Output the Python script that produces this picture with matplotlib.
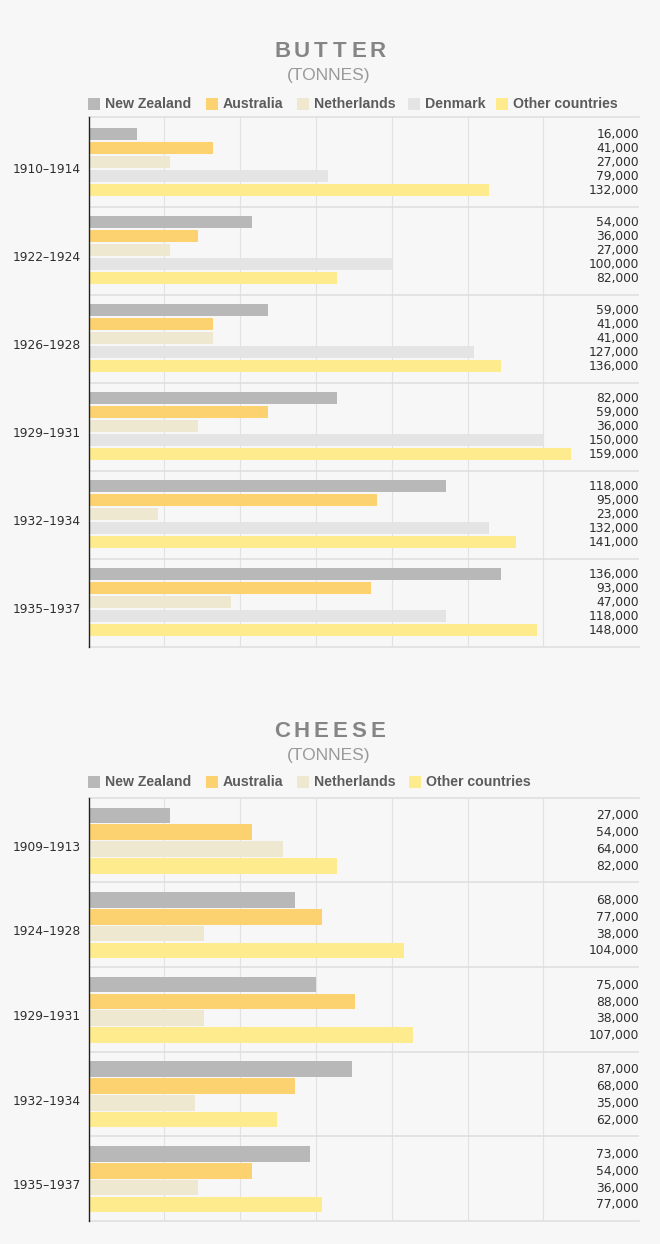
import matplotlib
matplotlib.use("Agg")
import matplotlib.pyplot as plt
from matplotlib.patches import Rectangle
from matplotlib import font_manager

# ---------------- data ----------------
butter_periods = ["1910–1914", "1922–1924", "1926–1928", "1929–1931", "1932–1934", "1935–1937"]
butter_countries = ["New Zealand", "Australia", "Netherlands", "Denmark", "Other countries"]
butter_nz = [16000, 54000, 59000, 82000, 118000, 136000]
butter_aus = [41000, 36000, 41000, 59000, 95000, 93000]
butter_neth = [27000, 27000, 41000, 36000, 23000, 47000]
butter_den = [79000, 100000, 127000, 150000, 132000, 118000]
butter_other = [132000, 82000, 136000, 159000, 141000, 148000]

cheese_periods = ["1909–1913", "1924–1928", "1929–1931", "1932–1934", "1935–1937"]
cheese_countries = ["New Zealand", "Australia", "Netherlands", "Other countries"]
cheese_nz = [27000, 68000, 75000, 87000, 73000]
cheese_aus = [54000, 77000, 88000, 68000, 54000]
cheese_neth = [64000, 38000, 38000, 35000, 36000]
cheese_other = [82000, 104000, 107000, 62000, 77000]

grid_ticks = [25000, 50000, 75000, 100000, 125000, 150000]

# ---------------- style ----------------
C_NZ = "#b9b8b8"
C_AUS = "#fcd16f"
C_NETH = "#efe8d1"
C_DEN = "#e4e4e4"
C_OTHER = "#fdeb8e"
BG = "#f7f7f7"
XMAX = 181500

W, H = 660, 1244
fig = plt.figure(figsize=(W / 100, H / 100), dpi=100, facecolor=BG)

names = {f.name for f in font_manager.fontManager.ttflist}
title_font = "Liberation Sans Narrow" if "Liberation Sans Narrow" in names else "Liberation Sans"


def fx(x):
    return x / W


def fy(y):
    return 1 - y / H


def title(word, yc_title, yc_sub):
    pitch = 19.0
    n = len(word)
    for i, ch in enumerate(word):
        xc = 330 + (i - (n - 1) / 2) * pitch
        fig.text(fx(xc), fy(yc_title), ch, ha="center", va="center",
                 family=title_font, weight="bold", size=16, color="#858585")
    fig.text(fx(329), fy(yc_sub), "(TONNES)", ha="center", va="center",
             family="Liberation Sans", size=12.5, color="#999999")


def legend(labels, colors, xs, yc):
    for lab, c, x in zip(labels, colors, xs):
        fig.patches.append(Rectangle((fx(x), fy(yc + 6)), 12 / W, 12 / H,
                                     transform=fig.transFigure, facecolor=c,
                                     edgecolor="none"))
        fig.text(fx(x + 16.8), fy(yc), lab, ha="left", va="center",
                 family="Liberation Sans", weight="bold", size=10.2, color="#5c5c5c")


def panel(top_px, bottom_px, top_extra, periods, series, colors,
          bar_off, bar_pitch, bar_h, label_dy):
    left, right = 88.6, 639.0
    ax = fig.add_axes([fx(left), fy(bottom_px), (right - left) / W,
                       (bottom_px - top_px) / H])
    ax.set_facecolor("none")
    ng = len(periods)
    gpx = (bottom_px - top_px - top_extra) / ng
    ax.set_xlim(0, XMAX)
    ax.set_ylim(ng, -top_extra / gpx)
    for j, (vals, c) in enumerate(zip(series, colors)):
        yc = [i + (bar_off + j * bar_pitch + bar_h / 2) / gpx for i in range(ng)]
        ax.barh(yc, vals, height=bar_h / gpx, color=c, linewidth=0, zorder=3)
        for y, v in zip(yc, vals):
            ax.text(1.0, y + 0.6 / gpx, f"{v:,}", transform=ax.get_yaxis_transform(),
                    ha="right", va="center", family="DejaVu Sans", size=8.8,
                    color="#2e2e2e", zorder=4)
    for i in range(1, ng):
        ax.axhline(i, color="#dddddd", lw=1.1, zorder=2)
    ax.set_xticks(grid_ticks)
    ax.grid(axis="x", color="#e2e2e2", lw=0.8)
    ax.set_axisbelow(True)
    ax.tick_params(axis="x", length=0, labelbottom=False)
    ax.set_yticks([i + 0.5 + label_dy / gpx for i in range(ng)])
    ax.set_yticklabels(periods)
    ax.tick_params(axis="y", length=0, pad=5.5, labelsize=8.8, labelcolor="#2e2e2e")
    for lab in ax.get_yticklabels():
        lab.set_family("DejaVu Sans")
    ax.spines["right"].set_visible(False)
    for s in ("top", "bottom"):
        ax.spines[s].set_color("#dddddd")
        ax.spines[s].set_linewidth(1.1)
    ax.spines["left"].set_color("#222222")
    ax.spines["left"].set_linewidth(1.0)
    ax.spines["left"].set_zorder(5)
    return ax


# ---------------- butter ----------------
title("BUTTER", 51.5, 75.5)
butter_colors = [C_NZ, C_AUS, C_NETH, C_DEN, C_OTHER]
legend(butter_countries, butter_colors, [88.4, 205.8, 297.0, 408.2, 495.8], 104)
panel(117.3, 647.3, 2.0, butter_periods,
      [butter_nz, butter_aus, butter_neth, butter_den, butter_other],
      butter_colors, 8.5, 14.0, 12.7, 4.3)

# ---------------- cheese ----------------
title("CHEESE", 731.3, 755.5)
cheese_colors = [C_NZ, C_AUS, C_NETH, C_OTHER]
legend(cheese_countries, cheese_colors, [88.4, 205.8, 297.0, 409.0], 782)
panel(797.7, 1221.0, 0.0, cheese_periods,
      [cheese_nz, cheese_aus, cheese_neth, cheese_other],
      cheese_colors, 9.8, 16.8, 15.6, 5.5)

fig.savefig("out.png", dpi=100, facecolor=BG)
